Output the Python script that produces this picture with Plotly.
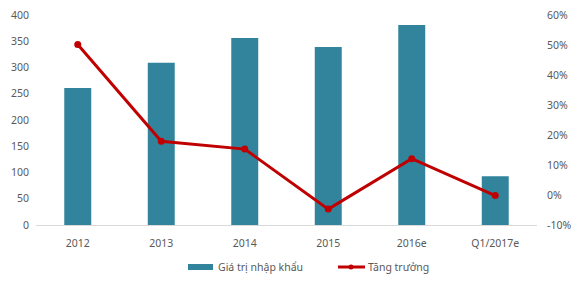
import plotly.graph_objects as go

categories = ["2012", "2013", "2014", "2015", "2016e", "Q1/2017e"]
import_value = [261, 309, 356, 339, 381, 93]
growth_pct = [50.2, 17.9, 15.3, -4.7, 12.1, -0.2]
left_ticks = [0, 50, 100, 150, 200, 250, 300, 350, 400]
right_ticks = [-10, 0, 10, 20, 30, 40, 50, 60]
right_labels = [f"{v}%" for v in right_ticks]
series_names = ["Giá trị nhập khẩu", "Tăng trưởng"]

font_family = "Noto Sans, Open Sans, sans-serif"
gray = "#595959"
bar_color = "#31849B"
line_color = "#C00000"

fig = go.Figure()
fig.add_trace(go.Bar(
    x=categories, y=import_value, name=series_names[0],
    marker=dict(color=bar_color, line=dict(width=0)),
    yaxis="y",
))
fig.add_trace(go.Scatter(
    x=categories, y=growth_pct, name=series_names[1],
    mode="lines+markers",
    line=dict(color=line_color, width=3),
    marker=dict(color=line_color, size=7),
    yaxis="y2",
))

# custom legend (paper coordinates; plot area 36..537 x 15..225 px)
W, H = 501.0, 210.0
def px(x):
    return (x - 36) / W
def py(y):
    return (225 - y) / H

fig.add_shape(type="rect", xref="paper", yref="paper",
              x0=px(188), x1=px(213), y0=py(270), y1=py(264),
              fillcolor=bar_color, line=dict(width=0))
fig.add_annotation(xref="paper", yref="paper", x=px(216), y=py(267),
                   text=series_names[0], showarrow=False, xanchor="left", yanchor="middle",
                   font=dict(size=10.5, color=gray))
fig.add_shape(type="line", xref="paper", yref="paper",
              x0=px(338), x1=px(365), y0=py(267), y1=py(267),
              line=dict(color=line_color, width=3))
fig.add_shape(type="circle", xref="paper", yref="paper",
              x0=px(348.5), x1=px(353.5), y0=py(269.5), y1=py(264.5),
              fillcolor=line_color, line=dict(width=0))
fig.add_annotation(xref="paper", yref="paper", x=px(366), y=py(267),
                   text=series_names[1], showarrow=False, xanchor="left", yanchor="middle",
                   font=dict(size=10.5, color=gray))

fig.update_layout(
    width=581, height=286,
    margin=dict(l=36, r=44, t=15, b=61, autoexpand=False),
    paper_bgcolor="white", plot_bgcolor="white",
    font=dict(family=font_family, size=10.5, color=gray),
    bargap=0.677,
    showlegend=False,
    xaxis=dict(showgrid=False, showline=True, linecolor="#D9D9D9", linewidth=1,
               ticks="", ticklabelstandoff=8, tickfont=dict(size=10.5, color=gray)),
    yaxis=dict(range=[0, 400], tickvals=left_ticks, showgrid=False, zeroline=False,
               showline=False, ticks="", ticklabelstandoff=6,
               tickfont=dict(size=10.5, color=gray)),
    yaxis2=dict(range=[-10, 60], tickvals=right_ticks, ticktext=right_labels,
                overlaying="y", side="right", showgrid=False, zeroline=False,
                showline=False, ticks="", ticklabelstandoff=9,
                tickfont=dict(size=10.5, color=gray)),
)

fig.write_html("out.html")
